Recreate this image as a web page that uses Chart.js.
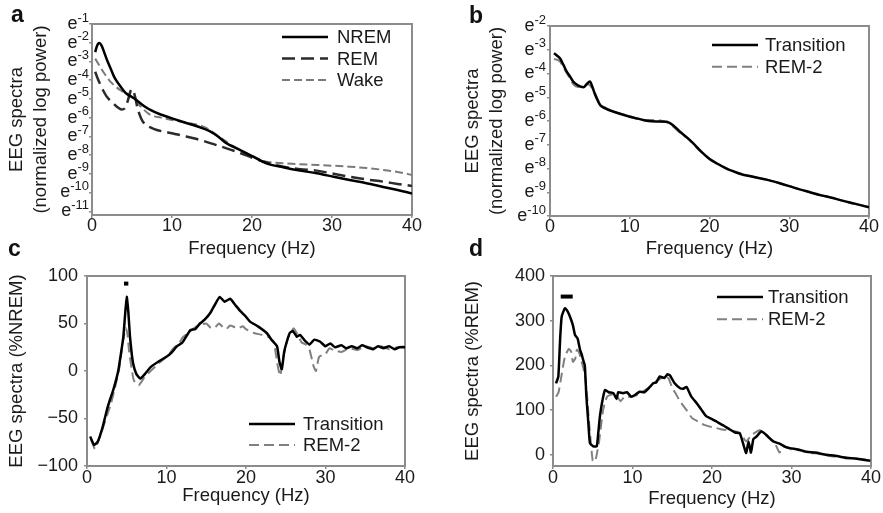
<!DOCTYPE html>
<html>
<head>
<meta charset="utf-8">
<script src="https://cdn.jsdelivr.net/npm/chart.js@4/dist/chart.umd.min.js"></script>
<style>
  body { margin: 0; background: #fff; }
  #fig { position: relative; width: 883px; height: 513px; font-family: "Liberation Sans", Arial, Helvetica, sans-serif; }
  canvas { position: absolute; }
  .tag { position: absolute; font-weight: bold; font-size: 23px; line-height: 1; color: #111; z-index: 2; }
</style>
</head>
<body>
<div id="fig">
  <canvas id="chartA" width="440" height="262" style="left:0;top:0"></canvas>
  <canvas id="chartB" width="443" height="262" style="left:440px;top:0"></canvas>
  <canvas id="chartC" width="440" height="263" style="left:0;top:250px"></canvas>
  <canvas id="chartD" width="443" height="263" style="left:440px;top:250px"></canvas>
  <div class="tag" style="left:11px;top:3px">a</div>
  <div class="tag" style="left:469px;top:4px">b</div>
  <div class="tag" style="left:8px;top:237px">c</div>
  <div class="tag" style="left:469px;top:237px">d</div>
</div>
<script>
// ---- data: [frequency Hz, value] ----
const freqTicks = [0, 10, 20, 30, 40];
const ticksA = [-1, -2, -3, -4, -5, -6, -7, -8, -9, -10, -11];   // exponents of e
const ticksB = [-2, -3, -4, -5, -6, -7, -8, -9, -10];
const ticksC = [-100, -50, 0, 50, 100];
const ticksD = [0, 100, 200, 300, 400];

// panel a: normalized log power (exponent of e)
const aNrem = [[0.4,-2.5],[0.6,-2.2],[0.9,-2.02],[1.2,-2.15],[1.6,-2.6],[1.9,-2.95],[2.3,-3.35],[2.8,-3.85],[3.5,-4.3],[4.3,-4.72],[5.2,-4.95],[6.2,-5.28],[7.3,-5.59],[8.5,-5.82],[10,-6.04],[11.5,-6.25],[13.3,-6.49],[14.7,-6.72],[15.8,-7.02],[16.8,-7.37],[17.9,-7.6],[18.9,-7.81],[20.2,-8.09],[21.8,-8.44],[23.9,-8.65],[26,-8.83],[28.1,-8.97],[30.2,-9.16],[32.2,-9.33],[34.3,-9.5],[36.4,-9.7],[38.2,-9.86],[40,-10.05]];
const aRem = [[0.4,-3.55],[0.7,-3.9],[1.0,-4.2],[1.4,-4.55],[1.8,-4.85],[2.3,-5.1],[2.7,-5.25],[3.2,-5.45],[3.7,-5.57],[4.1,-5.5],[4.5,-5.06],[4.8,-4.6],[5.0,-4.49],[5.3,-4.75],[5.7,-5.5],[6.1,-6.0],[6.6,-6.35],[7.3,-6.52],[8.1,-6.66],[9,-6.75],[10,-6.83],[11.3,-6.96],[12.7,-7.1],[14.2,-7.28],[15.6,-7.47],[17.1,-7.68],[18.6,-7.9],[20.2,-8.17],[21.8,-8.4],[23.9,-8.62],[26,-8.75],[28.1,-8.83],[30.2,-9.0],[32.2,-9.16],[34.3,-9.3],[36.4,-9.42],[38.2,-9.54],[40,-9.65]];
const aWake = [[0.4,-2.85],[0.9,-3.2],[1.4,-3.55],[1.9,-3.85],[2.3,-4.08],[2.9,-4.32],[3.5,-4.52],[4.1,-4.67],[4.75,-4.79],[5.4,-5.1],[6.3,-5.5],[7.3,-5.86],[8.6,-6.0],[10,-6.13],[11.6,-6.26],[13.3,-6.39],[14.5,-6.6],[15.6,-6.93],[16.7,-7.25],[17.7,-7.55],[18.8,-7.8],[19.75,-7.99],[20.8,-8.2],[21.8,-8.35],[22.8,-8.4],[23.9,-8.44],[26,-8.49],[28.1,-8.53],[30.2,-8.57],[32.2,-8.62],[34.3,-8.69],[36.4,-8.79],[38.2,-8.9],[40,-9.06]];

// panel b
const bTransition = [[0.5,-3.15],[0.9,-3.25],[1.25,-3.36],[1.7,-3.65],[2.1,-3.92],[2.5,-4.12],[2.9,-4.34],[3.5,-4.5],[4.2,-4.58],[4.6,-4.45],[5.0,-4.34],[5.3,-4.55],[5.6,-4.84],[6.0,-5.15],[6.3,-5.33],[7.0,-5.48],[7.9,-5.6],[9,-5.72],[10,-5.82],[11,-5.9],[12.1,-5.99],[13.4,-6.02],[14.6,-6.03],[15.5,-6.2],[16.3,-6.45],[17.2,-6.7],[18,-6.95],[19,-7.3],[20,-7.6],[21,-7.8],[22,-7.98],[23,-8.12],[24,-8.24],[25.2,-8.33],[26.3,-8.41],[27.5,-8.5],[28.8,-8.62],[30,-8.74],[31.3,-8.88],[32.6,-9.0],[33.9,-9.12],[35.2,-9.22],[36.4,-9.33],[38.2,-9.48],[40,-9.63]];
const bRem2 = [[0.5,-3.4],[0.9,-3.42],[1.25,-3.5],[1.7,-3.75],[2.1,-3.98],[2.5,-4.2],[2.9,-4.45],[3.5,-4.57],[4.2,-4.55],[4.8,-4.45],[5.2,-4.58],[5.6,-4.8],[6.0,-5.1],[6.3,-5.3],[7.0,-5.45],[7.9,-5.6],[9,-5.7],[10,-5.8],[11,-5.9],[12.1,-5.96],[13.4,-5.96],[14.6,-6.05],[15.5,-6.25],[16.3,-6.5],[17.2,-6.72],[18,-6.98],[19,-7.32],[20,-7.58],[21,-7.8],[22,-7.97],[23,-8.1],[24,-8.22],[25.2,-8.34],[26.3,-8.42],[27.5,-8.49],[28.8,-8.62],[30,-8.75],[31.3,-8.87],[32.6,-9.0],[33.9,-9.13],[35.2,-9.21],[36.4,-9.33],[38.2,-9.49],[40,-9.62]];

// panel c: % of NREM
const cTransition = [[0.4,-69],[0.9,-78],[1.3,-75],[1.6,-69],[2.0,-58],[2.5,-41],[2.9,-30],[3.3,-20],[3.7,-8],[3.95,1],[4.3,20],[4.57,36],[4.8,60],[5.0,78],[5.2,62],[5.4,37],[5.6,20],[5.8,8],[6.2,-3],[6.7,-8],[7.3,-3],[8.0,4],[9.0,10],[10.0,15],[10.6,19],[11.3,26],[12.0,30],[13.0,43],[13.6,44],[14.2,50],[14.8,54],[15.5,61],[16.1,70],[16.7,78],[17.3,73],[18.0,76],[18.6,70],[19.3,63],[19.9,58],[20.5,52],[21.5,47],[22.6,40],[23.2,33],[23.9,26],[24.2,10],[24.5,2],[24.8,20],[25.1,30],[25.5,40],[25.9,42],[26.4,36],[26.8,38],[27.4,32],[28.0,28],[28.6,33],[29.3,31],[30.0,26],[30.6,29],[31.2,25],[32.0,27],[32.6,24],[33.3,26],[34.0,24],[34.6,27],[35.2,25],[36.0,23],[36.6,26],[37.3,24],[38.0,26],[38.7,23],[39.3,25],[40,25]];
const cRem2 = [[0.5,-72],[1.0,-82],[1.5,-72],[2,-60],[2.5,-47],[3,-35],[3.5,-18],[4,0],[4.3,18],[4.6,35],[4.9,45],[5.1,38],[5.3,20],[5.6,3],[5.9,-10],[6.5,-15],[7.2,-7],[8,0],[9,8],[10,15],[11,25],[11.5,28],[12,35],[13,42],[14,48],[15,50],[15.5,46],[16,45],[16.6,50],[17,47],[17.5,44],[18,48],[18.6,46],[19,45],[19.6,47],[20,44],[21,40],[22,38],[23,35],[23.5,30],[24.0,5],[24.3,-5],[24.7,15],[25.3,35],[26,45],[26.5,38],[27,30],[27.5,28],[28,22],[28.5,5],[28.8,0],[29.2,15],[30,18],[30.5,24],[31,22],[32,20],[33,24],[34,22],[35,26],[36,24],[37,26],[38,23],[39,25],[40,26]];
const cSignif = [[4.65,92],[5.2,92]];

// panel d: % of REM
const dTransition = [[0.38,160],[0.67,175],[0.9,260],[1.09,309],[1.5,328],[1.8,322],[2.14,309],[2.5,290],[2.77,268],[3.1,260],[3.4,235],[3.6,225],[3.8,212],[4.0,200],[4.2,130],[4.45,70],[4.65,26],[5.07,19],[5.5,19],[5.7,50],[5.9,86],[6.2,120],[6.54,145],[7.0,140],[7.6,138],[8.0,125],[8.2,140],[8.8,138],[9.3,140],[9.85,130],[10.4,135],[10.9,141],[11.5,140],[12.0,148],[12.6,160],[13.0,162],[13.4,175],[14.0,172],[14.4,180],[14.7,178],[15.3,160],[16.0,149],[16.4,148],[16.8,152],[17.4,130],[18.1,115],[18.7,100],[19.3,86],[20.0,80],[20.6,74],[21.5,65],[22.3,56],[22.9,50],[23.5,48],[24.0,20],[24.3,4],[24.6,30],[24.9,5],[25.2,35],[25.6,41],[26.2,52],[26.8,45],[27.7,30],[28.5,25],[29.2,18],[29.8,15],[30.8,12],[31.9,7],[33.0,5],[34.4,0],[35.5,-2],[36.9,-7],[38.0,-8],[39.0,-11],[39.9,-13]];
const dRem2 = [[0.4,130],[0.7,140],[1.0,170],[1.5,220],[2.0,237],[2.3,230],[2.5,208],[2.8,215],[3.0,235],[3.3,228],[3.5,215],[4.0,180],[4.3,130],[4.5,80],[4.8,20],[5.0,-13],[5.3,-15],[5.6,10],[5.8,30],[6.3,100],[6.8,130],[7.4,135],[8,132],[8.5,120],[9,130],[10,130],[11,138],[12,150],[13,165],[14,175],[14.5,172],[15,150],[15.5,135],[16,119],[16.8,100],[17.5,82],[18.2,75],[19,67],[20,62],[21,58],[22,55],[23,52],[23.6,48],[24.3,30],[25,45],[26,55],[26.5,50],[27,40],[27.8,30],[28.5,5],[29,20],[30,12],[31,10],[32,5],[33.5,2],[35,-3],[36.5,-5],[38,-8],[40,-12]];
const dSignif = [[0.97,354],[2.48,354]];

// ---- styling ----
const txt = '#1a1a1a';
const axisGray = '#8c8c8c';
const fam = '"Liberation Sans", Arial, Helvetica, sans-serif';
Chart.defaults.font.family = fam;
Chart.defaults.color = txt;

const styles = {
  solid:    { borderColor: '#000', borderWidth: 2.5 },
  remDash:  { borderColor: '#2b2b2b', borderWidth: 2.5, borderDash: [13, 6] },
  wakeDash: { borderColor: '#7a7a7a', borderWidth: 2, borderDash: [8, 4] },
  grayDash: { borderColor: '#808080', borderWidth: 2, borderDash: [10, 5] },
  bar:      { borderColor: '#000', borderWidth: 4 }
};

function series(label, pairs, style) {
  return Object.assign({
    label: label,
    data: pairs.map(p => ({ x: p[0], y: p[1] })),
    pointRadius: 0,
    fill: false
  }, style);
}

// grey box round the plot area
const frameBox = {
  id: 'frameBox',
  beforeDatasetsDraw(chart) {
    const { ctx, chartArea: a } = chart;
    ctx.save();
    ctx.strokeStyle = axisGray;
    ctx.lineWidth = 2;
    ctx.strokeRect(a.left, a.top, a.right - a.left, a.bottom - a.top);
    ctx.restore();
  }
};

// legend drawn inside the plot, line sample + label
const lineLegend = {
  id: 'lineLegend',
  afterDraw(chart, args, o) {
    const ctx = chart.ctx;
    ctx.save();
    ctx.font = '18.5px ' + fam;
    ctx.textBaseline = 'middle';
    ctx.fillStyle = txt;
    let y = o.y;
    chart.data.datasets.forEach(ds => {
      if (!ds.label) return;
      ctx.strokeStyle = ds.borderColor;
      ctx.lineWidth = ds.borderWidth;
      ctx.setLineDash(ds.borderDash || []);
      ctx.beginPath();
      ctx.moveTo(o.x, y);
      ctx.lineTo(o.x + o.len, y);
      ctx.stroke();
      ctx.setLineDash([]);
      ctx.fillText(ds.label, o.x + o.len + o.gap, y + 1);
      y += o.step;
    });
    ctx.restore();
  }
};

// e^-n tick labels with raised exponent
const expTicks = {
  id: 'expTicks',
  afterDraw(chart, args, o) {
    const s = chart.scales.y;
    const ctx = chart.ctx;
    ctx.save();
    ctx.fillStyle = txt;
    ctx.textBaseline = 'middle';
    ctx.textAlign = 'right';
    s.ticks.forEach(t => {
      const y = s.getPixelForValue(t.value);
      const sup = '-' + Math.abs(t.value);
      ctx.font = '13px ' + fam;
      const w = ctx.measureText(sup).width;
      ctx.fillText(sup, o.right, y - 6);
      ctx.font = '18px ' + fam;
      ctx.fillText('e', o.right - w, y);
    });
    ctx.restore();
  }
};

function panel(id, datasets, p) {
  const gridOpts = { drawOnChartArea: false, drawTicks: true, tickLength: 3, color: axisGray, lineWidth: 1.5 };
  const borderOpts = { color: axisGray, width: 2 };
  return new Chart(document.getElementById(id), {
    type: 'line',
    data: { datasets: datasets },
    options: {
      responsive: false,
      animation: false,
      layout: { padding: p.pad },
      elements: { line: p.smooth ? { cubicInterpolationMode: 'monotone' } : { tension: 0.15 } },
      plugins: {
        legend: { display: false },
        tooltip: { enabled: false },
        lineLegend: p.legend,
        expTicks: p.exp || false
      },
      scales: {
        x: {
          type: 'linear', min: 0, max: 40,
          afterBuildTicks: s => { s.ticks = freqTicks.map(v => ({ value: v })); },
          afterFit: s => { s.height = p.xH; },
          grid: gridOpts,
          border: borderOpts,
          ticks: { font: { size: 18, lineHeight: 1.2 }, color: txt, padding: p.xTickPad, maxRotation: 0 },
          title: { display: true, text: 'Frequency (Hz)', color: txt,
                   font: { size: 18.5, lineHeight: 1.2 }, padding: { top: 0, bottom: p.xTitlePad } }
        },
        y: {
          type: 'linear', min: p.yMin, max: p.yMax,
          afterBuildTicks: s => { s.ticks = p.yTicks.map(v => ({ value: v })); },
          afterFit: s => { s.width = p.yW; },
          grid: gridOpts,
          border: borderOpts,
          ticks: { display: !p.exp, font: { size: 18 }, color: txt, padding: p.yTickPad,
                   callback: v => v < 0 ? '\u2212' + Math.abs(v) : String(v) },
          title: { display: true, text: p.yTitle, color: txt,
                   font: { size: 18.5, lineHeight: 1.3 }, padding: { top: p.yTitlePad, bottom: 0 } }
        }
      }
    },
    plugins: [frameBox, lineLegend, expTicks]
  });
}

const logTitle = ['EEG spectra', '(normalized log power)'];

panel('chartA', [
  series('NREM', aNrem, styles.solid),
  series('REM', aRem, styles.remDash),
  series('Wake', aWake, styles.wakeDash)
], {
  yMin: -11.2, yMax: -1, yTicks: ticksA, yTitle: logTitle, smooth: true,
  pad: { left: 0, top: 24, right: 28, bottom: 0 }, yW: 92, xH: 47,
  xTickPad: -3, xTitlePad: 2, yTickPad: 4, yTitlePad: 5,
  exp: { right: 89 },
  legend: { x: 282, y: 37, len: 46, gap: 9, step: 21.5 }
});

panel('chartB', [
  series('Transition', bTransition, styles.solid),
  series('REM-2', bRem2, styles.grayDash)
], {
  yMin: -10, yMax: -2, yTicks: ticksB, yTitle: logTitle, smooth: true,
  pad: { left: 0, top: 26, right: 14, bottom: 0 }, yW: 110, xH: 46,
  xTickPad: -3, xTitlePad: 2, yTickPad: 4, yTitlePad: 21,
  exp: { right: 106 },
  legend: { x: 272, y: 45, len: 46, gap: 7, step: 21.7 }
});

panel('chartC', [
  series('Transition', cTransition, styles.solid),
  series('REM-2', cRem2, styles.grayDash),
  series('', cSignif, styles.bar)
], {
  yMin: -100, yMax: 100, yTicks: ticksC, yTitle: 'EEG spectra (%NREM)', smooth: false,
  pad: { left: 0, top: 26, right: 35, bottom: 0 }, yW: 87, xH: 47,
  xTickPad: -2, xTitlePad: 6, yTickPad: 6, yTitlePad: 5,
  legend: { x: 249, y: 174, len: 46, gap: 8, step: 21 }
});

panel('chartD', [
  series('Transition', dTransition, styles.solid),
  series('REM-2', dRem2, styles.grayDash),
  series('', dSignif, styles.bar)
], {
  yMin: -25, yMax: 400, yTicks: ticksD, yTitle: 'EEG spectra (%REM)', smooth: false,
  pad: { left: 0, top: 26, right: 12, bottom: 0 }, yW: 113, xH: 47,
  xTickPad: -2, xTitlePad: 3, yTickPad: 5, yTitlePad: 21,
  legend: { x: 277, y: 47, len: 46, gap: 5, step: 22.3 }
});
</script>
</body>
</html>
